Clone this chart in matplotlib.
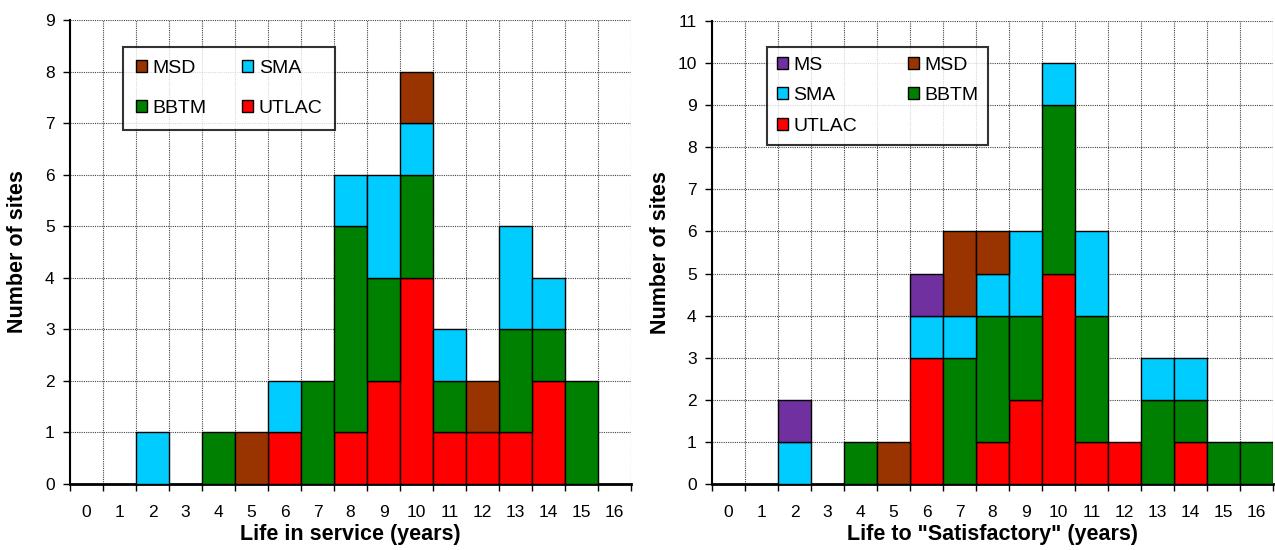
import matplotlib
matplotlib.use("Agg")
import matplotlib.pyplot as plt
import numpy as np
from matplotlib.patches import Patch

plt.rcParams['font.family'] = ['Liberation Sans', 'DejaVu Sans']

categories = list(range(17))

# Left chart: Life in service
left_UTLAC = [0, 0, 0, 0, 0, 0, 1, 0, 1, 2, 4, 1, 1, 1, 2, 0, 0]
left_BBTM  = [0, 0, 0, 0, 1, 0, 0, 2, 4, 2, 2, 1, 0, 2, 1, 2, 0]
left_SMA   = [0, 0, 1, 0, 0, 0, 1, 0, 1, 2, 1, 1, 0, 2, 1, 0, 0]
left_MSD   = [0, 0, 0, 0, 0, 1, 0, 0, 0, 0, 1, 0, 1, 0, 0, 0, 0]

# Right chart: Life to "Satisfactory"
right_UTLAC = [0, 0, 0, 0, 0, 0, 3, 0, 1, 2, 5, 1, 1, 0, 1, 0, 0]
right_BBTM  = [0, 0, 0, 0, 1, 0, 0, 3, 3, 2, 4, 3, 0, 2, 1, 1, 1]
right_SMA   = [0, 0, 1, 0, 0, 0, 1, 1, 1, 2, 1, 2, 0, 1, 1, 0, 0]
right_MSD   = [0, 0, 0, 0, 0, 1, 0, 2, 1, 0, 0, 0, 0, 0, 0, 0, 0]
right_MS    = [0, 0, 1, 0, 0, 0, 1, 0, 0, 0, 0, 0, 0, 0, 0, 0, 0]

colors = {'UTLAC': '#FF0000', 'BBTM': '#008000', 'SMA': '#00CCFF',
          'MSD': '#993300', 'MS': '#7030A0'}

fig = plt.figure(figsize=(12.75, 5.5), dpi=100)
W, H = 1275, 550
axL = fig.add_axes([70 / W, 1 - 484 / H, 561 / W, 464 / H])
axR = fig.add_axes([712 / W, 1 - 484 / H, 561 / W, 463 / H])


def draw(ax, series, ymax, xlabel, legend_order, anchor, rowspace, colspace,
         bpad, ylab_x):
    x = np.array(categories)
    bottom = np.zeros(len(x))
    for name, vals in series:
        vals = np.array(vals, dtype=float)
        m = vals > 0
        ax.bar(x[m], vals[m], width=1.0, bottom=bottom[m], color=colors[name],
               edgecolor='black', linewidth=1.0, zorder=3)
        bottom += vals
    ax.set_xlim(-0.5, 16.5)
    ax.set_ylim(0, ymax)
    ax.set_yticks(range(ymax + 1))
    ax.set_xticks(np.arange(-0.5, 17, 1.0))
    ax.set_xticklabels([])
    ax.set_xticks(x, minor=True)
    ax.set_xticklabels([str(c) for c in categories], minor=True)
    ax.tick_params(axis='x', which='major', direction='out', length=5, width=1)
    ax.tick_params(axis='x', which='minor', length=0, pad=15, labelsize=12.5)
    ax.tick_params(axis='y', direction='out', length=5, width=1,
                   labelsize=12.5, pad=6)
    ax.grid(True, which='major', color='#444444', linestyle=(0, (1, 1)),
            linewidth=0.8, zorder=0)
    ax.set_axisbelow(True)
    for s in ['top', 'right']:
        ax.spines[s].set_visible(False)
    ax.spines['left'].set_linewidth(1.5)
    ax.spines['bottom'].set_linewidth(2)
    ax.set_xlabel(xlabel, fontsize=15.5, fontweight='bold')
    ax.xaxis.set_label_coords(0.5, -0.087)
    ax.set_ylabel('Number of sites', fontsize=15.5, fontweight='bold')
    ax.yaxis.set_label_coords(ylab_x, 0.5)
    handles = [Patch(facecolor=colors[n], edgecolor='black', linewidth=1.0,
                     label=n) for n in legend_order]
    leg = ax.legend(handles=handles, ncol=2, loc='upper left',
                    bbox_to_anchor=anchor, borderaxespad=0, fontsize=14,
                    frameon=True, fancybox=False, handlelength=0.57,
                    handleheight=0.57, handletextpad=0.28,
                    columnspacing=colspace, labelspacing=rowspace,
                    borderpad=bpad)
    leg.get_frame().set_edgecolor('black')
    leg.get_frame().set_linewidth(1.5)
    leg.set_zorder(5)


draw(axL, [('UTLAC', left_UTLAC), ('BBTM', left_BBTM), ('SMA', left_SMA),
           ('MSD', left_MSD)], 9, 'Life in service (years)',
     ['MSD', 'BBTM', 'SMA', 'UTLAC'], (0.0945, 0.942), 1.2, 1.85, 0.65,
     (28 - 70) / 561)

draw(axR, [('UTLAC', right_UTLAC), ('BBTM', right_BBTM), ('SMA', right_SMA),
           ('MSD', right_MSD), ('MS', right_MS)], 11,
     'Life to "Satisfactory" (years)',
     ['MS', 'SMA', 'UTLAC', 'MSD', 'BBTM'], (0.098, 0.944), 0.7, 2.6, 0.5,
     (671 - 712) / 561)

fig.savefig('out.png', dpi=100)
